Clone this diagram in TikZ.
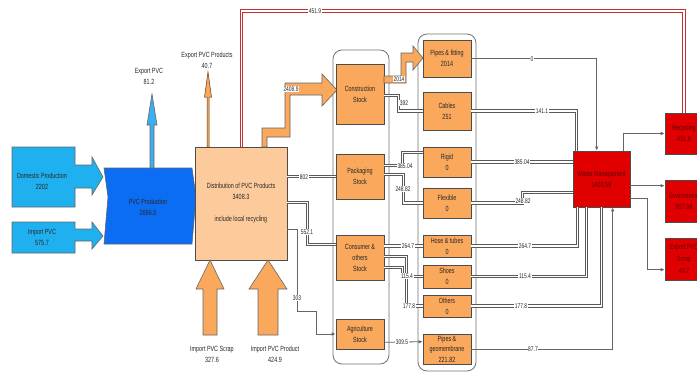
\documentclass[tikz,border=0pt]{standalone}
\usepackage{fontspec}
\setmainfont{Liberation Sans}[FakeStretch=0.72]
\usetikzlibrary{calc,arrows.meta}
\definecolor{lblue}{HTML}{1FB1EF}
\definecolor{dblue}{HTML}{0B6CF4}
\definecolor{eblue}{HTML}{3FAEF0}
\definecolor{peach}{HTML}{FDCB9B}
\definecolor{sorange}{HTML}{F9A85C}
\definecolor{wred}{HTML}{E00000}
\definecolor{lred}{HTML}{C83030}
\begin{document}
\begin{tikzpicture}[x=1pt,y=-1pt,
  wh/.style 2 args={minimum width=#1pt,minimum height=#2pt},
  box/.style={draw=black!70,line width=0.6pt,fill=sorange,align=center,inner sep=0pt,
    text=black!85,font=\fontsize{7.5}{11}\selectfont},
  rbox/.style={box,fill=wred,text=black!60!red},
  txt/.style={align=center,inner sep=0pt,text=black!85,font=\fontsize{7.5}{11}\selectfont},
  cont/.style={draw=black!55,line width=0.8pt,rounded corners=9pt,inner sep=0pt},
  shp/.style={draw=black!60,line width=0.6pt},
  pipe/.style={draw=black!65,line width=1pt,double=white,double distance=1.5pt},
  redpipe/.style={draw=lred,line width=1pt,double=white,double distance=1.5pt},
  thinl/.style={draw=black!60,line width=0.8pt},
  arr/.style={-{Latex[length=4pt,width=3.5pt]}},
  lbl/.style={fill=white,inner sep=0.6pt,text=black!85,font=\fontsize{6.8}{8}\selectfont}]
\useasboundingbox (0,0) rectangle (697,372);
\clip (0,0) rectangle (697,372);
\fill[white] (0,0) rectangle (697,372);

% containers
\node[cont,wh={56}{314}] (c1) at (361,207) {};
\node[cont,wh={58}{337}] (c2) at (447,202.5) {};

% input arrow shapes
\draw[shp,fill=lblue] (12,147) -- (75,147) -- (75,165) -- (92,165) -- (92,157) -- (103,177)
  -- (92,195) -- (92,188) -- (75,188) -- (75,207) -- (12,207) -- cycle;
\draw[shp,fill=lblue] (12,222) -- (75,222) -- (75,229) -- (92,229) -- (92,222) -- (103,236)
  -- (92,249) -- (92,241) -- (75,241) -- (75,253) -- (12,253) -- cycle;
\node[txt] (domt) at (42,181) {Domestic Production\\2202};
\node[txt] (impt) at (42,237) {Import PVC\\575.7};

% PVC production
\draw[shp,fill=dblue] (104,168) -- (192,168) -- (196,197) -- (192,244) -- (104,244) -- (108,197) -- cycle;
\node[txt] (prod) at (148,207.5) {PVC Production\\2696.5};

% export PVC arrow
\draw[shp,fill=eblue] (150,168) -- (150,125) -- (147,125) -- (152,94) -- (157,125) -- (154,125) -- (154,168) -- cycle;
\node[txt] (expt) at (149,76) {Export PVC\\81.2};

% distribution
\node[box,fill=peach,wh={92}{113}] (dist) at (241,203.5) {Distribution of PVC Products\\3408.3\\ \\include local recycling};

% export PVC products arrow
\draw[draw=black!55!brown,line width=0.5pt,fill=sorange] (207,147) -- (207,97) -- (204.5,97) -- (208,72) -- (211.5,97) -- (209,97) -- (209,147) -- cycle;
\node[txt] (expp) at (207,60) {Export PVC Products\\40.7};

% import arrows
\draw[shp,fill=sorange] (203,335) -- (203,289) -- (196,289) -- (210,260) -- (224,289) -- (217,289) -- (217,335) -- cycle;
\draw[shp,fill=sorange] (258,335) -- (258,289) -- (249,289) -- (268,260) -- (287,289) -- (278,289) -- (278,335) -- cycle;
\node[txt] (imps) at (212,354) {Import PVC Scrap\\327.6};
\node[txt] (impp) at (275,354) {Import PVC Product\\424.9};

% 2408.9 pipe arrow
\draw[shp,fill=sorange] (262,147) -- (262,128) -- (285,128) -- (285,83) -- (322,83) -- (322,74) -- (337,90)
  -- (322,106) -- (322,95) -- (290,95) -- (290,137) -- (267,137) -- (267,147) -- cycle;

% stock boxes
\node[box,wh={48}{60}] (cons) at (360,94) {Construction\\Stock};
\node[box,wh={48}{45}] (pack) at (360,176.5) {Packaging\\Stock};
\node[box,wh={48}{45}] (consu) at (360,257.5) {Consumer \&\\others\\Stock};
\node[box,wh={48}{30}] (agri) at (360,334) {Agriculture\\Stock};

% product boxes
\node[box,wh={48}{37}] (pipes) at (447,58.5) {Pipes \& fitting\\2014};
\node[box,wh={48}{38}] (cables) at (447,111) {Cables\\251};
\node[box,wh={48}{30}] (rigid) at (447,162) {Rigid\\0};
\node[box,wh={48}{30}] (flex) at (447,203) {Flexible\\0};
\node[box,wh={48}{22}] (hose) at (447,246) {Hose \& tubes\\0};
\node[box,wh={48}{23}] (shoes) at (447,276.5) {Shoes\\0};
\node[box,wh={48}{22}] (others) at (447,306) {Others\\0};
\node[box,wh={48}{30},font=\fontsize{7.5}{10.5}\selectfont] (geo) at (447,349) {Pipes \&\\geomembrane\\221.82};

% waste management and outputs
\node[rbox,wh={57}{56}] (wm) at (601.5,179) {Waste Management\\1400.58};
\node[rbox,wh={38}{41}] (rec) at (684,133.5) {Recycling\\451.9};
\node[rbox,wh={38}{42}] (env) at (684,201) {Environment\\907.98};
\node[rbox,wh={38}{42},font=\fontsize{7.5}{12}\selectfont] (exps) at (684,259) {Export PVC\\Scrap\\40.7};

% 2014 pipe arrow
\draw[shp,fill=sorange] (384,76) -- (401,76) -- (401,53) -- (413,53) -- (413,46) -- (423,58) -- (413,70)
  -- (413,62) -- (406,62) -- (406,83) -- (384,83) -- cycle;

% connectors
\coordinate (topline) at (0,11);
\draw[redpipe] ($(dist.north west)+(47,0)$) |- (rec.north |- topline) -- (rec.north);
\draw[pipe] (dist.east |- pack.west) -- (pack.west);
\draw[pipe] ($(dist.north east)+(0,56)$) -- ++(20,0) |- ($(consu.north west)+(0,10)$);
\draw[thinl,arr] ($(dist.north east)+(0,83)$) -- ++(10,0) -- ++(0,82) -- ++(19,0) |- (agri.west);
\draw[pipe] ($(cons.north east)+(0,32)$) -- ++(14,0) |- (cables.west);
\draw[pipe] ($(pack.north east)+(0,12)$) -- ++(18,0) |- ($(rigid.north west)+(0,6)$);
\draw[pipe] ($(pack.north east)+(0,21)$) -- ++(19,0) |- (flex.west);
\draw[pipe] (consu.east |- hose.west) -- (hose.west);
\draw[pipe] ($(consu.north east)+(0,22)$) -- ++(22,0) |- (others.west);
\draw[pipe] ($(consu.north east)+(0,33)$) -- ++(18,0) |- (shoes.west);
\draw[thinl,arr] ($(agri.south east)+(0,-7)$) -- ($(geo.north west)+(0,8)$);

\draw[thinl,arr] (pipes.east) -| ($(wm.north west)+(24,0)$);
\draw[pipe] (cables.east) -| ($(wm.north west)+(4,0)$);
\draw[pipe] (rigid.east) -- (wm.west |- rigid.east);
\draw[pipe] (flex.east) -- ++(51,0) |- ($(wm.north west)+(0,42)$);
\draw[pipe] (hose.east) -| ($(wm.south west)+(5,0)$);
\draw[pipe] (shoes.east) -| ($(wm.south west)+(14,0)$);
\draw[pipe] (others.east) -| ($(wm.south west)+(29,0)$);
\draw[thinl,arr] (geo.east) -| ($(wm.south west)+(40,0)$);

\draw[thinl,arr] ($(wm.north east)+(-7,0)$) |- (rec.west);
\draw[thinl,arr] ($(wm.north east)+(0,35)$) coordinate (e1) -- (env.west |- e1);
\draw[thinl,arr] ($(wm.north east)+(0,48)$) -- ++(17,0) |- ($(exps.north west)+(0,32)$);

% labels
\node[lbl] (l1) at (315,11) {451.9};
\node[lbl] (l2) at (304,177) {802};
\node[lbl] (l3) at (307,232) {552.1};
\node[lbl] (l4) at (297,298) {303};
\node[lbl] (l5) at (291,89) {2408.9};
\node[lbl] (l6) at (399,79) {2014};
\node[lbl] (l7) at (404,103) {392};
\node[lbl] (l8) at (405,166) {385.04};
\node[lbl] (l9) at (403,189) {248.82};
\node[lbl] (l10) at (408,246) {264.7};
\node[lbl] (l11) at (407,276) {115.4};
\node[lbl] (l12) at (409,306) {177.8};
\node[lbl] (l13) at (402,342) {309.5};
\node[lbl] (l14) at (532,59) {0};
\node[lbl] (l15) at (542,111) {141.1};
\node[lbl] (l16) at (522,162) {385.04};
\node[lbl] (l17) at (523,201) {248.82};
\node[lbl] (l18) at (525,246) {264.7};
\node[lbl] (l19) at (525,276) {115.4};
\node[lbl] (l20) at (521,306) {177.8};
\node[lbl] (l21) at (533,349) {87.7};
\end{tikzpicture}
\end{document}
